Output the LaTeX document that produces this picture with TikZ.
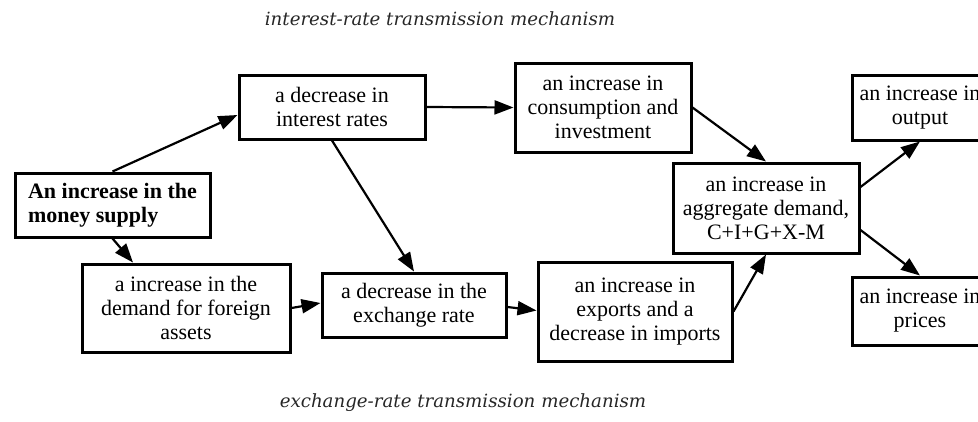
\documentclass[tikz,border=0pt]{standalone}
\usepackage{fontspec}
\setmainfont{Liberation Serif}
\newfontfamily\titlefont{DejaVu Serif}
\usetikzlibrary{arrows.meta}
\begin{document}
\begin{tikzpicture}[x=1pt,y=-1pt,
  box/.style={draw, line width=3pt, inner sep=0pt, align=center, font=\fontsize{22}{24}\selectfont},
  arr/.style={line width=2.2pt, -{Triangle[length=19pt,width=14pt]}},
  ttl/.style={font=\titlefont\itshape\fontsize{18.2}{21}\selectfont, text=black!85}]
\clip (0,0) rectangle (978,421);
\node[box, minimum width=195pt, minimum height=64pt, align=left, font=\bfseries\fontsize{22}{24}\selectfont] (ms) at (112.5,205) {An increase in the\\money supply};
\node[box, minimum width=186pt, minimum height=64pt] (ir) at (332,107) {a decrease in\\interest rates};
\node[box, minimum width=176pt, minimum height=89pt] (ci) at (603,107.5) {an increase in\\consumption and\\investment};
\node[box, minimum width=208pt, minimum height=88pt] (fa) at (186,308) {a increase in the\\demand for foreign\\assets};
\node[box, minimum width=184pt, minimum height=64pt] (er) at (414,305) {a decrease in the\\exchange rate};
\node[box, minimum width=194pt, minimum height=99pt] (ex) at (635,311.5) {an increase in\\exports and a\\decrease in imports};
\node[box, minimum width=186pt, minimum height=90pt] (ag) at (766,208) {an increase in\\aggregate demand,\\C+I+G+X-M};
\node[box, minimum width=136pt, minimum height=65pt] (out) at (920,107.5) {an increase in\\output};
\node[box, minimum width=136pt, minimum height=68pt] (pr) at (920,311) {an increase in\\prices};
\node[ttl] (t1) at (440,19) {interest-rate transmission mechanism};
\node[ttl] (t2) at (463,403) {exchange-rate transmission mechanism};
\draw[arr] (ms.north) -- ([yshift=-8pt]ir.west);
\draw[arr] (ms.south) -- ([xshift=-53pt]fa.north);
\draw[arr] (ir.east) -- (ci.west);
\draw[arr] (ir.south) -- (er.north);
\draw[arr] (fa.east) -- ([yshift=2pt]er.west);
\draw[arr] ([yshift=-2pt]er.east) -- ([yshift=1pt]ex.west);
\draw[arr] (ci.east) -- (ag.north);
\draw[arr] (ex.east) -- (ag.south);
\draw[arr] ([yshift=21pt]ag.east) -- (out.south);
\draw[arr] ([yshift=-22pt]ag.east) -- (pr.north);
\end{tikzpicture}
\end{document}
